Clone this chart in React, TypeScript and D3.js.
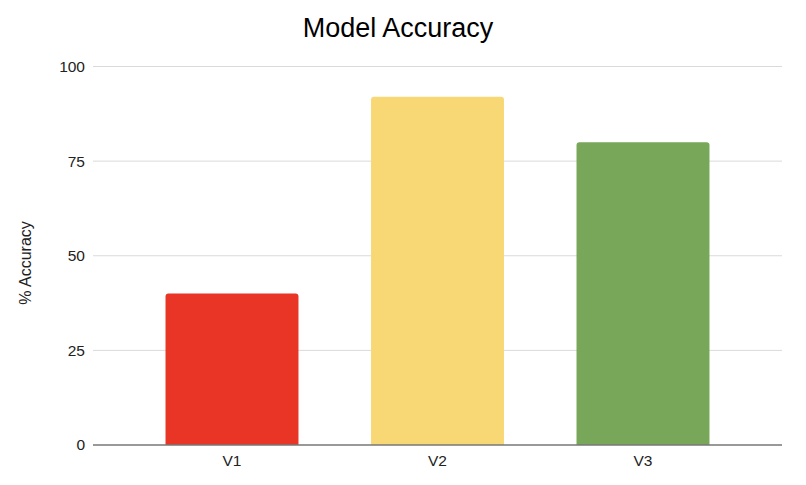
import { useEffect, useRef } from "react";
import * as d3 from "d3";

const models = ["V1", "V2", "V3"];
const accuracy = [40, 92, 80];
const barColors = ["#e83525", "#f8d875", "#78a75a"];
const yTicks = [0, 25, 50, 75, 100];

const WIDTH = 806;
const HEIGHT = 485;
const FONT = "Arial, 'Liberation Sans', Helvetica, sans-serif";

export default function App() {
  const axesRef = useRef<SVGGElement>(null);

  const yScale = d3.scaleLinear().domain([0, 100]).range([445, 66.5]);
  const xScale = d3
    .scaleBand()
    .domain(models)
    .range([129.25, 745.75])
    .paddingInner(0.353)
    .paddingOuter(0.1765);

  const gridLeft = 93;
  const gridRight = 782;

  useEffect(() => {
    const g = d3.select(axesRef.current);
    g.selectAll("*").remove();

    // y tick labels
    g.selectAll("text.ytick")
      .data(yTicks)
      .join("text")
      .attr("class", "ytick")
      .attr("x", 85)
      .attr("y", (d) => yScale(d))
      .attr("dy", "0.35em")
      .attr("text-anchor", "end")
      .attr("font-size", 15.5)
      .attr("fill", "#222")
      .text((d) => d);

    // x labels
    g.selectAll("text.xtick")
      .data(models)
      .join("text")
      .attr("class", "xtick")
      .attr("x", (d) => xScale(d)! + xScale.bandwidth() / 2)
      .attr("y", 466)
      .attr("text-anchor", "middle")
      .attr("font-size", 15.5)
      .attr("fill", "#222")
      .text((d) => d);

    // baseline
    g.append("line")
      .attr("x1", gridLeft)
      .attr("x2", gridRight)
      .attr("y1", yScale(0))
      .attr("y2", yScale(0))
      .attr("stroke", "#777")
      .attr("stroke-width", 1.5);
  }, []);

  const topRounded = (x: number, y: number, w: number, h: number, r: number) =>
    `M${x},${y + h}V${y + r}Q${x},${y} ${x + r},${y}H${x + w - r}Q${x + w},${y} ${x + w},${y + r}V${y + h}Z`;

  return (
    <div style={{ position: "absolute", left: 0, top: 0 }}>
      <svg width={WIDTH} height={HEIGHT} style={{ display: "block", background: "#fff" }} fontFamily={FONT}>
        <text x={398} y={37} textAnchor="middle" fontSize={27} fill="#000">
          Model Accuracy
        </text>
        <text
          transform={`translate(31,263) rotate(-90)`}
          textAnchor="middle"
          fontSize={16}
          fill="#222"
        >
          % Accuracy
        </text>
        {yTicks
          .filter((t) => t > 0)
          .map((t) => (
            <line
              key={t}
              x1={gridLeft}
              x2={gridRight}
              y1={yScale(t)}
              y2={yScale(t)}
              stroke="#dadada"
              strokeWidth={1}
            />
          ))}
        {models.map((m, i) => (
          <path
            key={m}
            d={topRounded(
              xScale(m)!,
              yScale(accuracy[i]),
              xScale.bandwidth(),
              yScale(0) - yScale(accuracy[i]),
              3
            )}
            fill={barColors[i]}
          >
            <title>{`${m}: ${accuracy[i]}`}</title>
          </path>
        ))}
        <g ref={axesRef} />
      </svg>
    </div>
  );
}
